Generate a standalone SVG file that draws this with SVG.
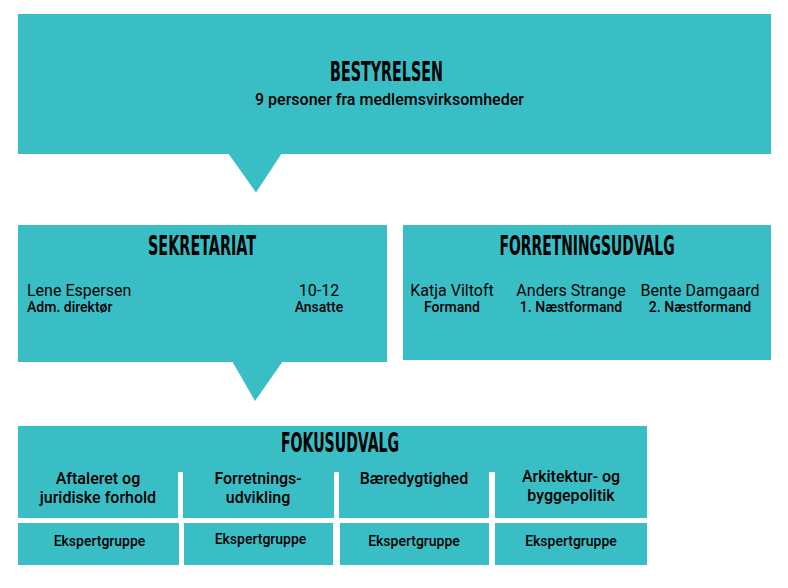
<svg xmlns="http://www.w3.org/2000/svg" width="788" height="588" viewBox="0 0 788 588">
<style>
.box{fill:#3abec6}
.title{font-family:"DejaVu Sans Condensed","DejaVu Sans",sans-serif;font-weight:bold;font-size:26px;fill:#000;text-anchor:middle}
.name{font-family:Roboto,"Liberation Sans",sans-serif;font-size:16px;fill:#000}
.sub{font-family:"Roboto Medium",Roboto,"Liberation Sans",sans-serif;font-size:14px;fill:#000}
.cell{font-family:"Roboto Medium",Roboto,"Liberation Sans",sans-serif;font-size:16px;fill:#000;text-anchor:middle}
.lead{font-family:"Roboto Medium",Roboto,"Liberation Sans",sans-serif;font-size:16px;fill:#000;text-anchor:middle}
.c{text-anchor:middle}
</style>
<rect width="788" height="588" fill="#fff"/>
<g id="connectors">
<polygon class="box" points="228,153 282,153 256,192.5"/>
<polygon class="box" points="232,361 283,361 255,401"/>
</g>
<g id="bestyrelsen">
<rect class="box" x="18" y="14" width="753" height="140"/>
<text class="title" transform="translate(386.5,81) scale(0.6,1)" x="0" y="0" textLength="188" lengthAdjust="spacingAndGlyphs">BESTYRELSEN</text>
<text class="lead" x="389.5" y="105">9 personer fra medlemsvirksomheder</text>
</g>
<g id="sekretariat">
<rect class="box" x="18" y="225" width="369" height="137"/>
<text class="title" transform="translate(202,255) scale(0.6,1)" x="0" y="0" textLength="180" lengthAdjust="spacingAndGlyphs">SEKRETARIAT</text>
<text class="name" x="27" y="296">Lene Espersen</text>
<text class="sub" x="27" y="312">Adm. direktør</text>
<text class="name c" x="319" y="296">10-12</text>
<text class="sub c" x="319" y="312">Ansatte</text>
</g>
<g id="forretningsudvalg">
<rect class="box" x="403" y="225" width="368" height="135"/>
<text class="title" transform="translate(587,255) scale(0.6,1)" x="0" y="0" textLength="292" lengthAdjust="spacingAndGlyphs">FORRETNINGSUDVALG</text>
<text class="name c" x="452" y="296">Katja Viltoft</text>
<text class="sub c" x="452" y="312">Formand</text>
<text class="name c" x="571" y="296">Anders Strange</text>
<text class="sub c" x="571" y="312">1. Næstformand</text>
<text class="name c" x="700" y="296">Bente Damgaard</text>
<text class="sub c" x="700" y="312">2. Næstformand</text>
</g>
<g id="fokusudvalg">
<rect class="box" x="18" y="426" width="629" height="46"/>
<rect class="box" x="18" y="471" width="160" height="47"/>
<rect class="box" x="183" y="471" width="151" height="47"/>
<rect class="box" x="339" y="471" width="150" height="47"/>
<rect class="box" x="495" y="471" width="152" height="47"/>
<text class="title" transform="translate(340,452) scale(0.6,1)" x="0" y="0" textLength="197" lengthAdjust="spacingAndGlyphs">FOKUSUDVALG</text>
<text class="cell" x="98" y="484">Aftaleret og</text>
<text class="cell" x="98" y="503">juridiske forhold</text>
<text class="cell" x="258" y="484">Forretnings-</text>
<text class="cell" x="258" y="503">udvikling</text>
<text class="cell" x="414" y="484">Bæredygtighed</text>
<text class="cell" x="571" y="482">Arkitektur- og</text>
<text class="cell" x="571" y="501">byggepolitik</text>
</g>
<g id="ekspert1">
<rect class="box" x="18" y="523" width="161" height="42"/>
<text class="sub c" x="99.5" y="546">Ekspertgruppe</text>
</g>
<g id="ekspert2">
<rect class="box" x="184" y="523" width="149" height="42"/>
<text class="sub c" x="260.5" y="544">Ekspertgruppe</text>
</g>
<g id="ekspert3">
<rect class="box" x="340" y="523" width="149" height="42"/>
<text class="sub c" x="414" y="546">Ekspertgruppe</text>
</g>
<g id="ekspert4">
<rect class="box" x="495" y="523" width="152" height="42"/>
<text class="sub c" x="571" y="546">Ekspertgruppe</text>
</g>
</svg>
